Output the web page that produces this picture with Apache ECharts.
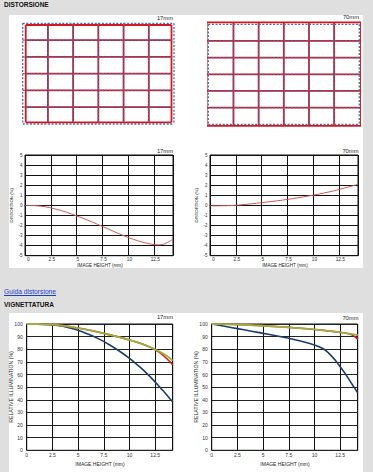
<!DOCTYPE html>
<html><head><meta charset="utf-8">
<script src="https://cdn.jsdelivr.net/npm/echarts/dist/echarts.min.js"></script>
<style>
html,body{margin:0;padding:0;width:373px;height:472px;overflow:hidden;background:#dfdfdf;font-family:"Liberation Sans",Arial,sans-serif;}
.panel{position:absolute;background:#fff;}
.h{position:absolute;font-weight:bold;font-size:6.5px;line-height:6.5px;color:#111;white-space:nowrap;}
.lnk{position:absolute;font-size:6.7px;line-height:6.7px;color:#1c3cc8;text-decoration:underline;white-space:nowrap;}
#chart{position:absolute;left:0;top:0;width:373px;height:472px;}
</style></head>
<body>
<div class="panel" style="left:9px;top:15px;width:354px;height:253px;"></div>
<div class="panel" style="left:9px;top:313px;width:354px;height:159px;"></div>
<div class="h" style="left:4px;top:2px;">DISTORSIONE</div>
<div class="lnk" style="left:4px;top:288.5px;">Guida distorsione</div>
<div class="h" style="left:4px;top:301.8px;">VIGNETTATURA</div>
<div id="chart"></div>
<script>
// ---- data ----
// distortion grid pictures (grid line positions, in grid units)
const gridIdx = [0, 1, 2, 3, 4, 5, 6];
const red17X = [0.12, 1, 2, 3, 4, 5, 5.9];
const red17Y = [0.1, 1, 2, 3, 4, 5, 5.9];
const red70X = [-0.065, 1, 2, 3, 4, 5, 6.065];
const red70Y = [-0.12, 1, 2, 3, 4, 5, 6.1];

// distortion curves (image height mm -> distortion %)
const DIST_XMAX = 14.3;
const distX  = [0, 1, 2, 3, 4, 5, 6, 7, 8, 9, 10, 11, 12, 12.5, 13, 13.5, 14, 14.3];
const dist17 = [0, -0.03, -0.15, -0.38, -0.68, -1.05, -1.45, -1.88, -2.33, -2.78, -3.2, -3.55, -3.82, -3.9, -3.92, -3.82, -3.55, -3.35];
const dist70 = [-0.05, -0.04, -0.02, 0.05, 0.15, 0.27, 0.39, 0.52, 0.67, 0.84, 1.02, 1.22, 1.45, 1.58, 1.72, 1.86, 2.0, 2.1];

// vignetting curves (image height mm -> relative illumination %)
const VIG_XMAX = 14.2;
const vigX      = [0, 1, 2, 3, 4, 5, 6, 7, 8, 9, 10, 10.5, 11, 11.5, 12, 12.5, 13, 13.5, 14, 14.2];
const vig17Blue = [100, 99.9, 99.6, 98.8, 97.3, 95, 91.8, 88.2, 83.8, 78.6, 72.8, 69.5, 66, 62.3, 58.3, 54, 49.5, 45, 40.3, 38.4];
const vig17Green= [100, 100, 99.7, 99.1, 98.1, 96.8, 95.3, 93.5, 91.6, 89.6, 87.4, 86.2, 84.9, 83.4, 81.7, 79.8, 77.7, 75.5, 72.5, 71];
const vig17Red  = [100, 100, 99.7, 99.1, 98.1, 96.8, 95.3, 93.5, 91.6, 89.6, 87.4, 86.2, 84.9, 83.4, 81.7, 79.6, 77, 73.5, 69.5, 67.5];
const vig70Blue = [100, 98.6, 97.1, 95.6, 94.1, 92.6, 91.1, 89.5, 87.8, 85.8, 83.4, 81.8, 79.6, 76, 71.5, 66.2, 60.5, 54.2, 48, 45.6];
const vig70Green= [100, 99.9, 99.7, 99.4, 99.0, 98.6, 98.1, 97.6, 97, 96.4, 95.7, 95.3, 94.9, 94.4, 93.9, 93.4, 92.8, 92.2, 91.5, 91.2];
const vig70Red  = [100, 99.9, 99.7, 99.4, 99.0, 98.6, 98.1, 97.6, 97, 96.4, 95.7, 95.3, 94.9, 94.4, 93.9, 93.4, 92.8, 91.8, 89.5, 88];

// ---- chart ----
const FONT = '"Liberation Sans", Arial, sans-serif';
const INK = '#111';
const zip = (xs, ys) => xs.map((x, i) => [x, ys[i]]);
const chart = echarts.init(document.getElementById('chart'), null, {renderer: 'svg', width: 373, height: 472});

const box = {show: true, borderColor: INK, borderWidth: 1, backgroundColor: 'transparent'};
const grids = [
  {left: 22.7, top: 23.3, width: 151.3, height: 100.7, show: false},
  {left: 208.3, top: 24.3, width: 151, height: 100, show: false},
  Object.assign({left: 25, top: 155, width: 148, height: 100.7}, box),
  Object.assign({left: 210, top: 155, width: 148, height: 100.7}, box),
  Object.assign({left: 26.7, top: 324, width: 146, height: 126.3}, box),
  Object.assign({left: 211.7, top: 324, width: 146, height: 126.3}, box)
];

const picX = i => ({type: 'value', gridIndex: i, min: 0, max: 6, show: false});
const picY = i => ({type: 'value', gridIndex: i, min: 0, max: 6, inverse: true, show: false});
const distXAxis = i => ({
  type: 'value', gridIndex: i, min: 0, max: DIST_XMAX, interval: 2.5,
  axisLine: {show: true, onZero: true, lineStyle: {color: INK, width: 1}},
  axisTick: {show: false},
  axisLabel: {fontSize: 4.8, margin: 1, color: '#333', fontFamily: FONT, showMaxLabel: false, alignMinLabel: 'left', padding: [0, 0, 0, 2]},
  splitLine: {show: true, lineStyle: {color: INK, width: 1}}
});
const distYAxis = i => ({
  type: 'value', gridIndex: i, min: -5, max: 5, interval: 1,
  axisLine: {show: false}, axisTick: {show: false},
  axisLabel: {fontSize: 4.5, margin: 2.5, color: '#333', fontFamily: FONT},
  splitLine: {show: true, lineStyle: {color: INK, width: 1}}
});
const vigXAxis = i => ({
  type: 'value', gridIndex: i, min: 0, max: VIG_XMAX, interval: 2.5,
  axisLine: {show: false}, axisTick: {show: false},
  axisLabel: {fontSize: 5, margin: 2.5, color: '#333', fontFamily: FONT, showMaxLabel: false},
  splitLine: {show: true, lineStyle: {color: INK, width: 1}}
});
const vigYAxis = i => ({
  type: 'value', gridIndex: i, min: 0, max: 100, interval: 10,
  axisLine: {show: false}, axisTick: {show: false},
  axisLabel: {fontSize: 5, margin: 4, color: '#333', fontFamily: FONT},
  splitLine: {show: true, lineStyle: {color: '#222', width: 1}}
});

const series = [];
function seg(gi, pts, color, width, dashed) {
  series.push({
    type: 'line', xAxisIndex: gi, yAxisIndex: gi, data: pts, showSymbol: false, clip: false,
    silent: true, animation: false,
    lineStyle: {color: color, width: width, type: dashed ? [2, 1.6] : 'solid'}
  });
}
function picture(gi, rx, ry) {
  const n = gridIdx.length - 1;
  rx.forEach(x => seg(gi, [[x, ry[0]], [x, ry[n]]], '#d8161f', 1.8, false));
  ry.forEach(y => seg(gi, [[rx[0], y], [rx[n], y]], '#d8161f', 1.8, false));
  gridIdx.forEach(x => seg(gi, [[x, gridIdx[0]], [x, gridIdx[n]]], '#4d6ca6', 1.3, true));
  gridIdx.forEach(y => seg(gi, [[gridIdx[0], y], [gridIdx[n], y]], '#4d6ca6', 1.3, true));
}
picture(0, red17X, red17Y);
picture(1, red70X, red70Y);

function curve(gi, xs, ys, color, width) {
  series.push({
    type: 'line', xAxisIndex: gi, yAxisIndex: gi, data: zip(xs, ys), smooth: 0.3,
    showSymbol: false, silent: true, animation: false,
    lineStyle: {color: color, width: width}
  });
}
curve(2, distX, dist17, '#d25a5a', 1);
curve(3, distX, dist70, '#d25a5a', 1);
curve(4, vigX, vig17Blue, '#1d3b6e', 1.6);
curve(4, vigX, vig17Red, '#d42222', 1.6);
curve(4, vigX, vig17Green, '#9fae3e', 1.8);
curve(5, vigX, vig70Blue, '#1d3b6e', 1.6);
curve(5, vigX, vig70Red, '#d42222', 1.6);
curve(5, vigX, vig70Green, '#9fae3e', 1.8);

function txt(x, y, text, size, align, rot) {
  return {
    type: 'text', x: x, y: y, rotation: rot || 0, z: 100, silent: true,
    style: {text: text, fontSize: size, fontFamily: FONT, fill: '#222', align: align || 'center', verticalAlign: 'middle'}
  };
}
const graphics = [
  txt(173, 17.7, '17mm', 5.8, 'right'),
  txt(359, 17.3, '70mm', 5.8, 'right'),
  txt(173, 150.7, '17mm', 5.8, 'right'),
  txt(358.5, 150.7, '70mm', 5.8, 'right'),
  txt(173, 317.3, '17mm', 5.8, 'right'),
  txt(358.5, 317.7, '70mm', 5.8, 'right'),
  txt(100, 265, 'IMAGE HEIGHT (mm)', 4.6),
  txt(285, 265, 'IMAGE HEIGHT (mm)', 4.6),
  txt(100, 464, 'IMAGE HEIGHT (mm)', 5),
  txt(285, 464, 'IMAGE HEIGHT (mm)', 5),
  txt(11.7, 205.3, 'DISTORTION (%)', 4.3, 'center', Math.PI / 2),
  txt(196.7, 205.3, 'DISTORTION (%)', 4.3, 'center', Math.PI / 2),
  txt(11, 387, 'RELATIVE ILLUMINATION (%)', 5.2, 'center', Math.PI / 2),
  txt(196, 387, 'RELATIVE ILLUMINATION (%)', 5.2, 'center', Math.PI / 2)
];

chart.setOption({
  backgroundColor: 'transparent',
  animation: false,
  grid: grids,
  xAxis: [picX(0), picX(1), distXAxis(2), distXAxis(3), vigXAxis(4), vigXAxis(5)],
  yAxis: [picY(0), picY(1), distYAxis(2), distYAxis(3), vigYAxis(4), vigYAxis(5)],
  series: series,
  graphic: graphics
});
</script>
</body></html>
